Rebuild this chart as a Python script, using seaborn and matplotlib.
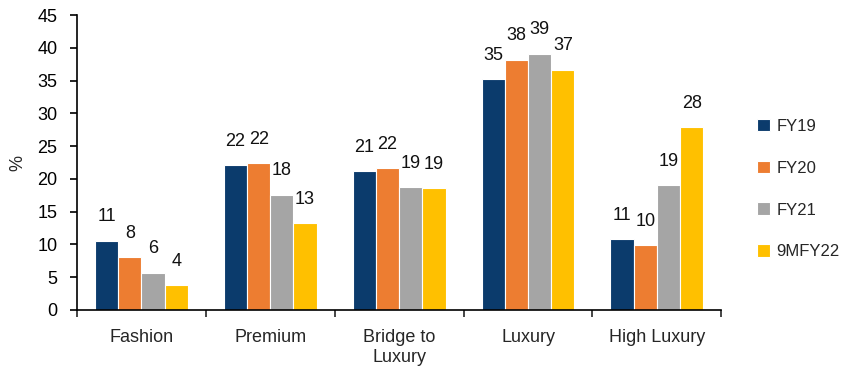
import matplotlib
matplotlib.use("Agg")
import matplotlib.pyplot as plt
import seaborn as sns
import pandas as pd
from matplotlib.ticker import FixedLocator

categories = ["Fashion", "Premium", "Bridge to\nLuxury", "Luxury", "High Luxury"]
series = ["FY19", "FY20", "FY21", "9MFY22"]
fy19 = [10.6, 22.1, 21.2, 35.2, 10.8]
fy20 = [8.1, 22.4, 21.6, 38.2, 9.9]
fy21 = [5.7, 17.6, 18.7, 39.1, 19.1]
m9fy22 = [3.8, 13.3, 18.6, 36.7, 27.9]
colors = ["#0B3B6C", "#ED7D31", "#A5A5A5", "#FFC000"]
yticks = [0, 5, 10, 15, 20, 25, 30, 35, 40, 45]

rows = []
for s, vals in zip(series, [fy19, fy20, fy21, m9fy22]):
    for c, v in zip(categories, vals):
        rows.append({"cat": c, "series": s, "val": v})
df = pd.DataFrame(rows)

sns.set_style("white")
plt.rcParams["font.family"] = ["Liberation Sans", "DejaVu Sans"]

fig = plt.figure(figsize=(8.5, 3.78), dpi=100)
ax = fig.add_axes([0.0906, 0.18, 0.758, 0.78])

sns.barplot(data=df, x="cat", y="val", hue="series", order=categories,
            hue_order=series, palette=colors, saturation=1, width=0.72,
            edgecolor="white", linewidth=0.8, ax=ax, errorbar=None)

for cont in ax.containers:
    ax.bar_label(cont, fmt="%.0f", padding=11, fontsize=13, color="#111111")

ax.set_ylim(0, 45)
ax.set_xlim(-0.5, len(categories) - 0.5)
ax.set_yticks(yticks)
ax.set_xlabel("")
ax.set_ylabel("%", fontsize=13, labelpad=8)
ax.tick_params(axis="y", direction="out", length=5, width=1.2, labelsize=13,
               colors="black", left=True, pad=9)
ax.tick_params(axis="x", which="major", length=0, labelsize=13, pad=14)
ax.xaxis.set_minor_locator(FixedLocator([i - 0.5 for i in range(len(categories) + 1)]))
ax.tick_params(axis="x", which="minor", direction="out", length=5, width=1.2, bottom=True)
for side in ["top", "right"]:
    ax.spines[side].set_visible(False)
for side in ["left", "bottom"]:
    ax.spines[side].set_color("black")
    ax.spines[side].set_linewidth(1.2)

handles, labels = ax.get_legend_handles_labels()
ax.legend(handles, labels, loc="center left", bbox_to_anchor=(1.055, 0.41),
          frameon=False, fontsize=12, handlelength=0.8, handleheight=0.8,
          labelspacing=1.6, handletextpad=0.4, borderpad=0, borderaxespad=0)

fig.savefig("out.png", dpi=100)
